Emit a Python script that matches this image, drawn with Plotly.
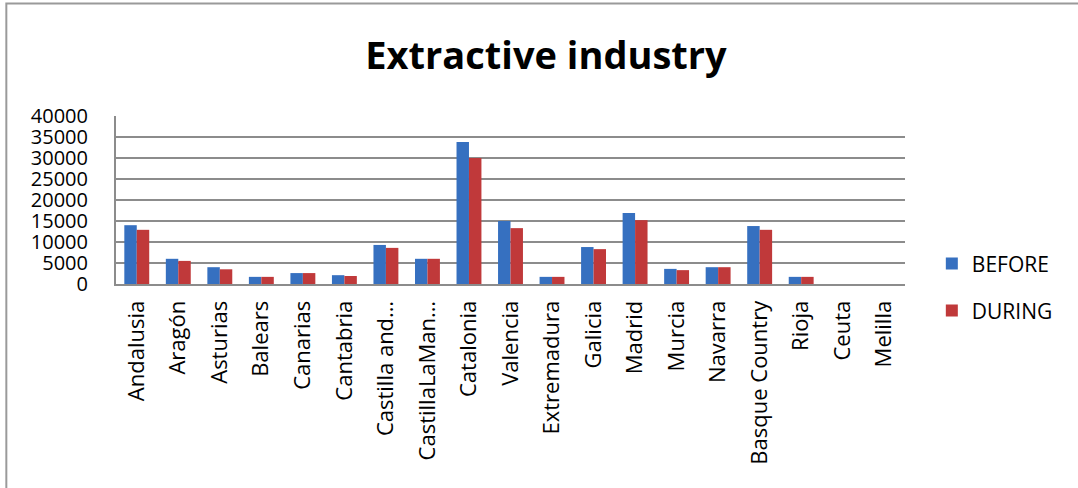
import plotly.graph_objects as go

# Regions of Spain (labels as displayed on the category axis)
regions = [
    "Andalusia", "Aragón", "Asturias", "Balears", "Canarias", "Cantabria",
    "Castilla and…", "CastillaLaMan…", "Catalonia", "Valencia", "Extremadura",
    "Galicia", "Madrid", "Murcia", "Navarra", "Basque Country", "Rioja",
    "Ceuta", "Melilla",
]

before = [14000, 6000, 4000, 1700, 2600, 2100, 9300, 6000, 33800, 15000,
          1700, 8800, 16900, 3600, 4000, 13800, 1700, 0, 0]
during = [12900, 5500, 3500, 1700, 2600, 1900, 8600, 6000, 30000, 13300,
          1700, 8300, 15200, 3300, 4000, 12900, 1700, 0, 0]

y_ticks = [0, 5000, 10000, 15000, 20000, 25000, 30000, 35000, 40000]

FONT = "Open Sans"
BLUE = "#3670c0"
RED = "#c0393a"

fig = go.Figure()
fig.add_trace(go.Bar(
    x=regions, y=before, name="BEFORE", legend="legend", showlegend=True,
    marker=dict(color=BLUE, line=dict(width=0)),
))
fig.add_trace(go.Bar(
    x=regions, y=during, name="DURING", legend="legend2", showlegend=True,
    marker=dict(color=RED, line=dict(width=0)),
))

legend_style = dict(
    font=dict(family=FONT, size=21, color="#000000"),
    bgcolor="rgba(0,0,0,0)",
    xanchor="left", yanchor="middle",
    itemwidth=30,
)

fig.update_layout(
    width=1078, height=488,
    margin=dict(l=116, r=173, t=116, b=204),
    paper_bgcolor="white", plot_bgcolor="white",
    showlegend=True,
    barmode="group", bargap=0.4, bargroupgap=0,
    title=dict(
        text="<b>Extractive industry</b>",
        font=dict(family=FONT, size=38, color="#000000"),
        x=0.545, xanchor="center", xref="paper",
        y=0.885, yanchor="middle", yref="container",
    ),
    font=dict(family=FONT, color="#000000"),
    legend=dict(x=1.034, y=0.12, **legend_style),
    legend2=dict(x=1.034, y=-0.16, **legend_style),
    xaxis=dict(
        tickangle=-90,
        tickfont=dict(family=FONT, size=22, color="#000000"),
        showline=True, linecolor="#8c8c8c", linewidth=2,
        showgrid=False, ticks="outside", ticklen=6, tickcolor="white",
    ),
    yaxis=dict(
        range=[0, 40000], tickvals=y_ticks,
        ticktext=[str(v) for v in y_ticks],
        tickfont=dict(family=FONT, size=20, color="#000000"),
        showgrid=True, gridcolor="#8c8c8c", gridwidth=2,
        showline=True, linecolor="#8c8c8c", linewidth=2,
        zeroline=False, ticks="outside", ticklen=22, tickcolor="white",
    ),
    shapes=[
        # outer chart frame (runs past the right and bottom page edges)
        dict(type="rect", xref="paper", yref="paper",
             x0=-0.139, x1=1.5, y0=-1.5, y1=1.669,
             line=dict(color="#9a9a9a", width=2), fillcolor="rgba(0,0,0,0)",
             layer="below"),
    ],
)

fig.write_html("out.html")
